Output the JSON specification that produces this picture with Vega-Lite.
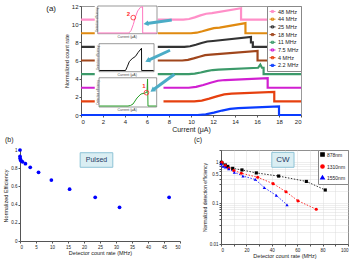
{
  "$schema": "https://vega.github.io/schema/vega-lite/v6.json",
  "padding": {"left": 3, "top": 2, "right": 0, "bottom": 0},
  "background": "white",
  "config": {
    "font": "Liberation Sans",
    "view": {"stroke": null},
    "axis": {"labelFont": "Liberation Sans", "titleFont": "Liberation Sans", "titleFontWeight": "normal", "labelColor": "#222", "titleColor": "#222", "domainColor": "#555", "tickColor": "#555", "grid": false, "labelOverlap": false},
    "title": {"font": "Liberation Sans", "fontWeight": "normal", "color": "#222"},
    "legend": {"labelFont": "Liberation Sans", "labelColor": "#222"}
  },
  "spacing": 2,
  "resolve": {"scale": {"color": "independent", "shape": "independent"}, "legend": {"color": "independent", "shape": "independent"}},
  "datasets": {
    "curves": [
      {"s": "48 MHz", "i": 0, "x": 0, "y": 10.5}, {"s": "48 MHz", "i": 1, "x": 9.3, "y": 10.5}, {"s": "48 MHz", "i": 2, "x": 9.82, "y": 10.57}, {"s": "48 MHz", "i": 3, "x": 10.34, "y": 10.75}, {"s": "48 MHz", "i": 4, "x": 10.86, "y": 10.97}, {"s": "48 MHz", "i": 5, "x": 11.38, "y": 11.15}, {"s": "48 MHz", "i": 6, "x": 11.9, "y": 11.22}, {"s": "48 MHz", "i": 7, "x": 14.55, "y": 11.75}, {"s": "48 MHz", "i": 8, "x": 14.55, "y": 10.5}, {"s": "48 MHz", "i": 9, "x": 20, "y": 10.5},
      {"s": "44 MHz", "i": 0, "x": 0, "y": 9}, {"s": "44 MHz", "i": 1, "x": 10, "y": 9}, {"s": "44 MHz", "i": 2, "x": 10.52, "y": 9.06}, {"s": "44 MHz", "i": 3, "x": 11.04, "y": 9.22}, {"s": "44 MHz", "i": 4, "x": 11.56, "y": 9.4}, {"s": "44 MHz", "i": 5, "x": 12.08, "y": 9.56}, {"s": "44 MHz", "i": 6, "x": 12.6, "y": 9.62}, {"s": "44 MHz", "i": 7, "x": 14.95, "y": 10.12}, {"s": "44 MHz", "i": 8, "x": 14.95, "y": 9}, {"s": "44 MHz", "i": 9, "x": 20, "y": 9},
      {"s": "25 MHz", "i": 0, "x": 0, "y": 7.5}, {"s": "25 MHz", "i": 1, "x": 9.4, "y": 7.5}, {"s": "25 MHz", "i": 2, "x": 9.92, "y": 7.57}, {"s": "25 MHz", "i": 3, "x": 10.44, "y": 7.73}, {"s": "25 MHz", "i": 4, "x": 10.96, "y": 7.92}, {"s": "25 MHz", "i": 5, "x": 11.48, "y": 8.09}, {"s": "25 MHz", "i": 6, "x": 12, "y": 8.15}, {"s": "25 MHz", "i": 7, "x": 15.45, "y": 8.6}, {"s": "25 MHz", "i": 8, "x": 15.45, "y": 8.0}, {"s": "25 MHz", "i": 9, "x": 15.62, "y": 8.0}, {"s": "25 MHz", "i": 10, "x": 15.62, "y": 7.5}, {"s": "25 MHz", "i": 11, "x": 20, "y": 7.5},
      {"s": "18 MHz", "i": 0, "x": 0, "y": 6}, {"s": "18 MHz", "i": 1, "x": 9.2, "y": 6}, {"s": "18 MHz", "i": 2, "x": 9.72, "y": 6.07}, {"s": "18 MHz", "i": 3, "x": 10.24, "y": 6.23}, {"s": "18 MHz", "i": 4, "x": 10.76, "y": 6.42}, {"s": "18 MHz", "i": 5, "x": 11.28, "y": 6.59}, {"s": "18 MHz", "i": 6, "x": 11.8, "y": 6.65}, {"s": "18 MHz", "i": 7, "x": 16.05, "y": 7.05}, {"s": "18 MHz", "i": 8, "x": 16.05, "y": 6}, {"s": "18 MHz", "i": 9, "x": 20, "y": 6},
      {"s": "11 MHz", "i": 0, "x": 0, "y": 4.5}, {"s": "11 MHz", "i": 1, "x": 9.8, "y": 4.5}, {"s": "11 MHz", "i": 2, "x": 10.34, "y": 4.55}, {"s": "11 MHz", "i": 3, "x": 10.88, "y": 4.68}, {"s": "11 MHz", "i": 4, "x": 11.42, "y": 4.83}, {"s": "11 MHz", "i": 5, "x": 11.96, "y": 4.95}, {"s": "11 MHz", "i": 6, "x": 12.5, "y": 5.0}, {"s": "11 MHz", "i": 7, "x": 16.1, "y": 5.2}, {"s": "11 MHz", "i": 8, "x": 16.3, "y": 5.55}, {"s": "11 MHz", "i": 9, "x": 16.45, "y": 5.2}, {"s": "11 MHz", "i": 10, "x": 16.6, "y": 5.2}, {"s": "11 MHz", "i": 11, "x": 16.6, "y": 4.5}, {"s": "11 MHz", "i": 12, "x": 20, "y": 4.5},
      {"s": "7.5 MHz", "i": 0, "x": 0, "y": 3}, {"s": "7.5 MHz", "i": 1, "x": 9.8, "y": 3}, {"s": "7.5 MHz", "i": 2, "x": 10.46, "y": 3.09}, {"s": "7.5 MHz", "i": 3, "x": 11.12, "y": 3.3}, {"s": "7.5 MHz", "i": 4, "x": 11.78, "y": 3.55}, {"s": "7.5 MHz", "i": 5, "x": 12.44, "y": 3.77}, {"s": "7.5 MHz", "i": 6, "x": 13.1, "y": 3.85}, {"s": "7.5 MHz", "i": 7, "x": 16.97, "y": 4.05}, {"s": "7.5 MHz", "i": 8, "x": 16.97, "y": 3}, {"s": "7.5 MHz", "i": 9, "x": 20, "y": 3},
      {"s": "4 MHz", "i": 0, "x": 0, "y": 1.5}, {"s": "4 MHz", "i": 1, "x": 10.3, "y": 1.5}, {"s": "4 MHz", "i": 2, "x": 10.98, "y": 1.59}, {"s": "4 MHz", "i": 3, "x": 11.66, "y": 1.8}, {"s": "4 MHz", "i": 4, "x": 12.34, "y": 2.05}, {"s": "4 MHz", "i": 5, "x": 13.02, "y": 2.27}, {"s": "4 MHz", "i": 6, "x": 13.7, "y": 2.35}, {"s": "4 MHz", "i": 7, "x": 17.57, "y": 2.55}, {"s": "4 MHz", "i": 8, "x": 17.57, "y": 1.5}, {"s": "4 MHz", "i": 9, "x": 20, "y": 1.5},
      {"s": "2.2 MHz", "i": 0, "x": 0, "y": 0}, {"s": "2.2 MHz", "i": 1, "x": 10.6, "y": 0}, {"s": "2.2 MHz", "i": 2, "x": 11.34, "y": 0.075}, {"s": "2.2 MHz", "i": 3, "x": 12.08, "y": 0.26}, {"s": "2.2 MHz", "i": 4, "x": 12.82, "y": 0.49}, {"s": "2.2 MHz", "i": 5, "x": 13.56, "y": 0.675}, {"s": "2.2 MHz", "i": 6, "x": 14.3, "y": 0.75}, {"s": "2.2 MHz", "i": 7, "x": 18, "y": 0.96}, {"s": "2.2 MHz", "i": 8, "x": 18, "y": 0}, {"s": "2.2 MHz", "i": 9, "x": 20, "y": 0}
    ],
    "inset": [
      {"g": 1, "i": 0, "x": 1.55, "y": 9.03}, {"g": 1, "i": 1, "x": 4.35, "y": 9.03}, {"g": 1, "i": 2, "x": 4.55, "y": 9.3}, {"g": 1, "i": 3, "x": 4.75, "y": 9.95}, {"g": 1, "i": 4, "x": 4.95, "y": 10.8}, {"g": 1, "i": 5, "x": 5.15, "y": 11.45}, {"g": 1, "i": 6, "x": 5.4, "y": 11.85}, {"g": 1, "i": 7, "x": 5.6, "y": 11.92}, {"g": 1, "i": 8, "x": 5.61, "y": 9.03}, {"g": 1, "i": 9, "x": 6.88, "y": 9.03},
      {"g": 2, "i": 0, "x": 1.67, "y": 4.9}, {"g": 2, "i": 1, "x": 4.05, "y": 4.9}, {"g": 2, "i": 2, "x": 4.2, "y": 5.3}, {"g": 2, "i": 3, "x": 4.4, "y": 5.9}, {"g": 2, "i": 4, "x": 4.65, "y": 6.2}, {"g": 2, "i": 5, "x": 4.95, "y": 6.45}, {"g": 2, "i": 6, "x": 5.2, "y": 6.9}, {"g": 2, "i": 7, "x": 5.5, "y": 7.35}, {"g": 2, "i": 8, "x": 5.51, "y": 4.9}, {"g": 2, "i": 9, "x": 6.6, "y": 4.9},
      {"g": 3, "i": 0, "x": 1.67, "y": 0.99}, {"g": 3, "i": 1, "x": 4.27, "y": 0.99}, {"g": 3, "i": 2, "x": 4.5, "y": 1.05}, {"g": 3, "i": 3, "x": 4.73, "y": 1.21}, {"g": 3, "i": 4, "x": 5.09, "y": 1.87}, {"g": 3, "i": 5, "x": 5.45, "y": 2.31}, {"g": 3, "i": 6, "x": 5.82, "y": 2.42}, {"g": 3, "i": 7, "x": 6.0, "y": 2.53}, {"g": 3, "i": 8, "x": 6.05, "y": 3.96}, {"g": 3, "i": 9, "x": 6.09, "y": 0.99}, {"g": 3, "i": 10, "x": 6.85, "y": 0.99}
    ],
    "pulsed": [
      {"x": 0, "y": 1.0}, {"x": 0, "y": 0.93}, {"x": 0.05, "y": 0.91}, {"x": 0.15, "y": 0.89}, {"x": 0.4, "y": 0.88}, {"x": 0.8, "y": 0.87}, {"x": 1.7, "y": 0.85}, {"x": 3.2, "y": 0.81}, {"x": 5.8, "y": 0.755}, {"x": 9.8, "y": 0.67}, {"x": 15.5, "y": 0.57}, {"x": 23.5, "y": 0.48}, {"x": 31.1, "y": 0.37}, {"x": 46.6, "y": 0.48}
    ],
    "cw": [
      {"wl": "878nm", "x": 0.3, "y": 1.0}, {"wl": "878nm", "x": 0.8, "y": 0.96}, {"wl": "878nm", "x": 3.4, "y": 0.86}, {"wl": "878nm", "x": 5.3, "y": 0.79}, {"wl": "878nm", "x": 9.2, "y": 0.71}, {"wl": "878nm", "x": 16.5, "y": 0.65}, {"wl": "878nm", "x": 27.8, "y": 0.55}, {"wl": "878nm", "x": 45.4, "y": 0.46}, {"wl": "878nm", "x": 67.2, "y": 0.34}, {"wl": "878nm", "x": 82.1, "y": 0.21},
      {"wl": "1310nm", "x": 0.8, "y": 1.0}, {"wl": "1310nm", "x": 3.4, "y": 0.83}, {"wl": "1310nm", "x": 6.1, "y": 0.71}, {"wl": "1310nm", "x": 10.1, "y": 0.63}, {"wl": "1310nm", "x": 16, "y": 0.54}, {"wl": "1310nm", "x": 28.9, "y": 0.43}, {"wl": "1310nm", "x": 41, "y": 0.3}, {"wl": "1310nm", "x": 51.2, "y": 0.19}, {"wl": "1310nm", "x": 60.6, "y": 0.114}, {"wl": "1310nm", "x": 75, "y": 0.071},
      {"wl": "1550nm", "x": 0, "y": 0.91}, {"wl": "1550nm", "x": 1.6, "y": 0.8}, {"wl": "1550nm", "x": 3.4, "y": 0.76}, {"wl": "1550nm", "x": 6.1, "y": 0.69}, {"wl": "1550nm", "x": 10.5, "y": 0.57}, {"wl": "1550nm", "x": 17.3, "y": 0.46}, {"wl": "1550nm", "x": 27, "y": 0.38}, {"wl": "1550nm", "x": 34.1, "y": 0.24}, {"wl": "1550nm", "x": 43.6, "y": 0.154}, {"wl": "1550nm", "x": 52, "y": 0.091}
    ]
  },
  "vconcat": [
    {
      "spacing": 0,
      "resolve": {"scale": {"color": "independent", "shape": "independent"}, "legend": {"color": "independent", "shape": "independent"}},
      "hconcat": [
        {
          "width": 43, "height": 1,
          "title": {"text": "(a)", "orient": "bottom", "anchor": "end", "frame": "group", "fontSize": 8, "offset": -4, "dx": -7},
          "data": {"values": [{"v": 0}]},
          "mark": {"type": "point", "opacity": 0},
          "encoding": {}
        },
        {
          "width": 220, "height": 109,
          "view": {"stroke": "#999"},
          "layer": [
            {
              "data": {"name": "curves"},
              "mark": {"type": "line", "strokeWidth": 2.2},
              "encoding": {
                "x": {"field": "x", "type": "quantitative", "scale": {"domain": [0, 20], "nice": false}, "axis": {"title": "Current (μA)", "values": [0, 2, 4, 6, 8, 10, 12, 14, 16, 18, 20], "format": "d", "tickCount": 100, "labelOverlap": false, "labelFontSize": 6, "titleFontSize": 7, "tickSize": 2, "labelPadding": 1, "titlePadding": 1}},
                "y": {"field": "y", "type": "quantitative", "scale": {"domain": [0, 12], "nice": false}, "axis": {"title": "Normalized count rate", "values": [0, 2, 4, 6, 8, 10, 12], "format": "d", "tickCount": 100, "labelOverlap": false, "labelFontSize": 6, "titleFontSize": 5.5, "tickSize": 2, "labelPadding": 1, "titlePadding": 2}},
                "color": {
                  "field": "s", "type": "nominal",
                  "scale": {"domain": ["48 MHz", "44 MHz", "25 MHz", "18 MHz", "11 MHz", "7.5 MHz", "4 MHz", "2.2 MHz"], "range": ["#FF8FC8", "#E08A10", "#333333", "#A0461C", "#3C9A6A", "#D11FD1", "#E6400F", "#0A3CFF"]},
                  "legend": {"title": null, "orient": "top-right", "offset": 0, "fillColor": "white", "strokeColor": "#888", "padding": 2, "labelFontSize": 5.5, "symbolSize": 36, "rowPadding": 0.7, "labelOffset": 2, "symbolType": "M-1,0H1M-0.35,-0.35H0.35V0.35H-0.35Z", "symbolStrokeWidth": 1}
                },
                "order": {"field": "i", "type": "quantitative"}
              }
            },
            {
              "data": {"values": [{"x": 1.25, "x2": 6.98, "y": 0.35, "y2": 12}, {"x": 6.9, "x2": 7.5, "y": 1.2, "y2": 3.4}]},
              "mark": {"type": "rect", "fill": "white"},
              "encoding": {"x": {"field": "x", "type": "quantitative"}, "x2": {"field": "x2"}, "y": {"field": "y", "type": "quantitative"}, "y2": {"field": "y2"}}
            },
            {
              "data": {"values": [{"x": 1.52, "x2": 6.91, "y": 8.95, "y2": 12}, {"x": 1.64, "x2": 6.64, "y": 4.77, "y2": 7.85}, {"x": 1.64, "x2": 6.88, "y": 0.88, "y2": 4.1}]},
              "mark": {"type": "rect", "fill": "white", "stroke": "#555", "strokeWidth": 0.6},
              "encoding": {"x": {"field": "x", "type": "quantitative"}, "x2": {"field": "x2"}, "y": {"field": "y", "type": "quantitative"}, "y2": {"field": "y2"}}
            },
            {
              "data": {"name": "inset"},
              "transform": [{"filter": "datum.g == 1"}],
              "mark": {"type": "line", "color": "#FF77C0", "strokeWidth": 1},
              "encoding": {"x": {"field": "x", "type": "quantitative"}, "y": {"field": "y", "type": "quantitative"}, "order": {"field": "i", "type": "quantitative"}}
            },
            {
              "data": {"name": "inset"},
              "transform": [{"filter": "datum.g == 2"}],
              "mark": {"type": "line", "color": "#111111", "strokeWidth": 1},
              "encoding": {"x": {"field": "x", "type": "quantitative"}, "y": {"field": "y", "type": "quantitative"}, "order": {"field": "i", "type": "quantitative"}}
            },
            {
              "data": {"name": "inset"},
              "transform": [{"filter": "datum.g == 3"}],
              "mark": {"type": "line", "color": "#2AA02A", "strokeWidth": 1},
              "encoding": {"x": {"field": "x", "type": "quantitative"}, "y": {"field": "y", "type": "quantitative"}, "order": {"field": "i", "type": "quantitative"}}
            },
            {
              "data": {"values": [{"x": 4.2, "y": 8.62, "t": "Current (μA)"}, {"x": 4.2, "y": 4.42, "t": "Current (μA)"}, {"x": 4.2, "y": 0.55, "t": "Current (μA)"}]},
              "mark": {"type": "text", "fontSize": 3.5, "color": "#444"},
              "encoding": {"x": {"field": "x", "type": "quantitative"}, "y": {"field": "y", "type": "quantitative"}, "text": {"field": "t"}}
            },
            {
              "data": {"values": [{"x": 1.4, "y": 10.5, "t": "Detection efficiency"}, {"x": 1.5, "y": 6.3, "t": "Detection efficiency"}, {"x": 1.5, "y": 2.5, "t": "Detection efficiency"}]},
              "mark": {"type": "text", "fontSize": 2.8, "color": "#444", "angle": 270},
              "encoding": {"x": {"field": "x", "type": "quantitative"}, "y": {"field": "y", "type": "quantitative"}, "text": {"field": "t"}}
            },
            {
              "data": {"values": [{"x": 4.75, "y": 10.72}, {"x": 5.95, "y": 2.46}]},
              "mark": {"type": "point", "shape": "circle", "filled": false, "color": "#FF2A2A", "size": 22, "strokeWidth": 0.8, "opacity": 1},
              "encoding": {"x": {"field": "x", "type": "quantitative"}, "y": {"field": "y", "type": "quantitative"}}
            },
            {
              "data": {"values": [{"x": 4.3, "y": 11.16, "t": "2"}, {"x": 5.73, "y": 3.19, "t": "1"}]},
              "mark": {"type": "text", "color": "#FF2A2A", "fontSize": 6, "fontWeight": "bold"},
              "encoding": {"x": {"field": "x", "type": "quantitative"}, "y": {"field": "y", "type": "quantitative"}, "text": {"field": "t"}}
            },
            {
              "data": {"values": [{"a": 1, "x": 8.25, "y": 10.46}, {"a": 1, "x": 6.0, "y": 10.07}, {"a": 2, "x": 8.09, "y": 7.13}, {"a": 2, "x": 6.15, "y": 6.03}, {"a": 3, "x": 8.5, "y": 4.48}, {"a": 3, "x": 6.6, "y": 2.8}]},
              "mark": {"type": "line", "color": "#4BACC6", "strokeWidth": 3},
              "encoding": {"x": {"field": "x", "type": "quantitative"}, "y": {"field": "y", "type": "quantitative"}, "detail": {"field": "a"}}
            },
            {
              "data": {"values": [{"x": 5.9, "y": 10.05}]},
              "mark": {"type": "point", "shape": "triangle-up", "filled": true, "color": "#4BACC6", "size": 32, "angle": 261, "opacity": 1},
              "encoding": {"x": {"field": "x", "type": "quantitative"}, "y": {"field": "y", "type": "quantitative"}}
            },
            {
              "data": {"values": [{"x": 6.05, "y": 5.98}]},
              "mark": {"type": "point", "shape": "triangle-up", "filled": true, "color": "#4BACC6", "size": 32, "angle": 245, "opacity": 1},
              "encoding": {"x": {"field": "x", "type": "quantitative"}, "y": {"field": "y", "type": "quantitative"}}
            },
            {
              "data": {"values": [{"x": 6.5, "y": 2.72}]},
              "mark": {"type": "point", "shape": "triangle-up", "filled": true, "color": "#4BACC6", "size": 32, "angle": 234, "opacity": 1},
              "encoding": {"x": {"field": "x", "type": "quantitative"}, "y": {"field": "y", "type": "quantitative"}}
            }
          ]
        }
      ]
    },
    {
      "spacing": 12,
      "resolve": {"scale": {"color": "independent", "shape": "independent"}, "legend": {"color": "independent", "shape": "independent"}},
      "hconcat": [
        {
          "width": 160, "height": 91,
          "title": {"text": "(b)", "anchor": "start", "frame": "group", "fontSize": 7, "dx": -15, "offset": 4},
          "layer": [
            {
              "data": {"values": [{"x": 18.8, "x2": 29, "y": 0.81, "y2": 0.97}]},
              "mark": {"type": "rect", "fill": "#DAEEF3", "stroke": "#8EC3D6", "strokeWidth": 1},
              "encoding": {
                "x": {"field": "x", "type": "quantitative", "scale": {"domain": [0, 50], "nice": false}, "axis": {"title": "Detector count rate (MHz)", "values": [0, 5, 10, 15, 20, 25, 30, 35, 40, 45, 50], "format": "d", "tickCount": 100, "labelOverlap": false, "labelFontSize": 4.5, "titleFontSize": 5.5, "tickSize": 2, "labelPadding": 1, "titlePadding": 2}},
                "x2": {"field": "x2"},
                "y": {"field": "y", "type": "quantitative", "scale": {"domain": [0, 1], "nice": false}, "axis": {"title": "Normalized Efficiency", "values": [0, 0.2, 0.4, 0.6, 0.8, 1], "tickCount": 100, "labelOverlap": false, "format": ".1~f", "labelFontSize": 4.5, "titleFontSize": 5.5, "tickSize": 2, "labelPadding": 1, "titlePadding": 2}},
                "y2": {"field": "y2"}
              }
            },
            {
              "data": {"values": [{"x": 23.9, "y": 0.89, "t": "Pulsed"}]},
              "mark": {"type": "text", "fontSize": 7, "color": "#1F3864"},
              "encoding": {"x": {"field": "x", "type": "quantitative"}, "y": {"field": "y", "type": "quantitative"}, "text": {"field": "t"}}
            },
            {
              "data": {"name": "pulsed"},
              "mark": {"type": "circle", "color": "#0000FF", "size": 14, "opacity": 1},
              "encoding": {"x": {"field": "x", "type": "quantitative"}, "y": {"field": "y", "type": "quantitative"}}
            }
          ]
        },
        {
          "width": 127, "height": 94,
          "view": {"stroke": "#444"},
          "title": {"text": "(c)", "anchor": "start", "frame": "group", "fontSize": 7, "dx": -27, "offset": 4},
          "layer": [
            {
              "data": {"name": "cw"},
              "mark": {"type": "line", "strokeWidth": 0.8, "strokeDash": [1.5, 1.5]},
              "encoding": {
                "x": {"field": "x", "type": "quantitative", "scale": {"domain": [0, 100], "nice": false}, "axis": {"title": "Detector count rate (MHz)", "values": [0, 10, 20, 30, 40, 50, 60, 70, 80, 90, 100], "format": "d", "tickCount": 100, "labelOverlap": false, "labelExpr": "datum.value % 20 == 0 ? datum.label : ''", "grid": true, "gridColor": "#dddddd", "gridWidth": 0.5, "labelFontSize": 4.5, "titleFontSize": 5.5, "tickSize": 2, "labelPadding": 1, "titlePadding": 2}},
                "y": {"field": "y", "type": "quantitative", "scale": {"type": "log", "domain": [0.01, 2], "nice": false}, "axis": {"title": "Normalized detection efficiency", "values": [0.01, 0.02, 0.03, 0.04, 0.05, 0.06, 0.07, 0.08, 0.09, 0.1, 0.2, 0.3, 0.4, 0.5, 0.6, 0.7, 0.8, 0.9, 1, 2], "tickCount": 100, "labelOverlap": false, "labelExpr": "datum.value == 1 ? '1' : datum.value == 0.5 ? '0.5' : datum.value == 0.1 ? '0.1' : datum.value == 0.01 ? '0.01' : ''", "grid": true, "gridColor": "#dddddd", "gridWidth": 0.5, "labelFontSize": 4.5, "titleFontSize": 5, "tickSize": 2, "labelPadding": 1, "titlePadding": 2}},
                "color": {"field": "wl", "type": "nominal", "scale": {"domain": ["878nm", "1310nm", "1550nm"], "range": ["#000000", "#FF0000", "#0000FF"]}, "legend": {"title": null, "orient": "top-right", "offset": 0, "fillColor": "white", "strokeColor": "#888", "padding": 2, "labelFontSize": 5, "symbolSize": 10, "rowPadding": 1, "labelOffset": 2}}
              }
            },
            {
              "data": {"name": "cw"},
              "mark": {"type": "point", "filled": true, "size": 10, "opacity": 1},
              "encoding": {
                "x": {"field": "x", "type": "quantitative"},
                "y": {"field": "y", "type": "quantitative"},
                "color": {"field": "wl", "type": "nominal", "legend": {"title": null, "orient": "top-right", "offset": 0, "fillColor": "white", "strokeColor": "#888", "padding": 2, "labelFontSize": 5, "symbolSize": 10, "rowPadding": 1, "labelOffset": 2}},
                "shape": {"field": "wl", "type": "nominal", "scale": {"domain": ["878nm", "1310nm", "1550nm"], "range": ["square", "circle", "triangle-up"]}, "legend": {"title": null, "orient": "top-right", "offset": 0, "fillColor": "white", "strokeColor": "#888", "padding": 2, "labelFontSize": 5, "symbolSize": 10, "rowPadding": 1, "labelOffset": 2}}
              }
            },
            {
              "data": {"values": [{"x": 40, "x2": 57.5, "y": 0.755, "y2": 1.75}]},
              "mark": {"type": "rect", "fill": "#DAEEF3", "stroke": "#8EC3D6", "strokeWidth": 1},
              "encoding": {"x": {"field": "x", "type": "quantitative"}, "x2": {"field": "x2"}, "y": {"field": "y", "type": "quantitative"}, "y2": {"field": "y2"}}
            },
            {
              "data": {"values": [{"x": 48.7, "y": 1.15, "t": "CW"}]},
              "mark": {"type": "text", "fontSize": 8, "color": "#1F3864"},
              "encoding": {"x": {"field": "x", "type": "quantitative"}, "y": {"field": "y", "type": "quantitative"}, "text": {"field": "t"}}
            }
          ]
        }
      ]
    }
  ]
}
